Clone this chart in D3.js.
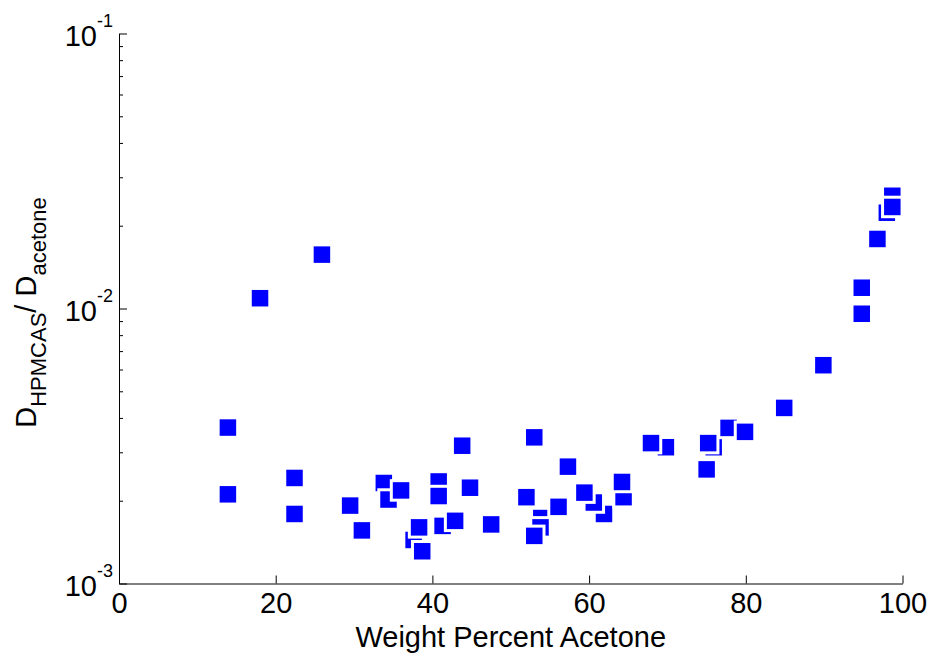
<!DOCTYPE html>
<html>
<head>
<meta charset="utf-8">
<script src="https://cdn.jsdelivr.net/npm/d3@7"></script>
<style>
  body { margin: 0; background: #fff; }
  svg text { font-family: Arial, "Liberation Sans", sans-serif; fill: #000; }
</style>
</head>
<body>
<svg id="diffusivity-ratio"></svg>
<script>
// weight percent acetone (x) and D_HPMCAS / D_acetone (y), in plot order
const weightPercent = [
    13.9, 13.9, 18.0, 22.4, 22.4, 25.9, 29.5, 31.0, 33.8, 34.4,
    36.0, 37.6, 38.3, 38.7, 40.8, 40.8, 41.3, 42.9, 43.8, 44.8,
    47.5, 52.0, 53.0, 53.9, 53.8, 53.0, 56.1, 57.3, 61.9, 60.6,
    59.4, 64.4, 64.2, 69.8, 67.9, 75.0, 75.9, 75.2, 77.8, 79.9,
    84.9, 89.9, 94.8, 94.8, 96.8, 98.7, 98.0, 98.7
];
const diffRatio = [
    0.00369, 0.00211, 0.0109, 0.00242, 0.00179, 0.0157, 0.00192, 0.00156, 0.00232, 0.00202,
    0.00218, 0.00144, 0.00160, 0.00131, 0.00235, 0.00208, 0.00162, 0.00169, 0.00317, 0.00223,
    0.00164, 0.00206, 0.00340, 0.00173, 0.00160, 0.00149, 0.00190, 0.00266, 0.00179, 0.00197,
    0.00214, 0.00206, 0.00234, 0.00313, 0.00324, 0.00260, 0.00313, 0.00324, 0.00368, 0.00356,
    0.00435, 0.00622, 0.0119, 0.00957, 0.0179, 0.0257, 0.0223, 0.0234
];

const xTicks = [0, 20, 40, 60, 80, 100];
const yMajorTicks = [1e-3, 1e-2, 1e-1];
const yMajorExponents = ["-3", "-2", "-1"];
const yMinorTicks = [2, 3, 4, 5, 6, 7, 8, 9].flatMap(m => [m * 1e-3, m * 1e-2]);

const width = 930, height = 656;
const margin = { left: 119, right: 27.5, top: 33.5, bottom: 72.5 };

const svg = d3.select("#diffusivity-ratio").attr("width", width).attr("height", height);

const x = d3.scaleLinear().domain([0, 100]).range([margin.left, width - margin.right]);
const y = d3.scaleLog().domain([1e-3, 1e-1]).range([height - margin.bottom, margin.top]);

// points (blue squares with white edge)
const side = 19.5;
svg.append("g")
    .selectAll("rect")
    .data(weightPercent.map((w, i) => ({ w, r: diffRatio[i] })))
    .join("rect")
    .attr("x", d => x(d.w) - side / 2)
    .attr("y", d => y(d.r) - side / 2)
    .attr("width", side)
    .attr("height", side)
    .attr("fill", "#0000ff")
    .attr("stroke", "#fff")
    .attr("stroke-width", 3);

// x axis, ticks pointing inward
const xAxis = svg.append("g")
    .attr("transform", `translate(0,${height - margin.bottom})`)
    .call(d3.axisBottom(x).tickValues(xTicks).tickSize(-8).tickSizeOuter(0).tickPadding(9));
xAxis.selectAll("text").attr("font-size", "29px").attr("dy", "0.71em");

// y axis, major and minor ticks
svg.append("g")
    .attr("transform", `translate(${margin.left},0)`)
    .call(d3.axisLeft(y).tickValues(yMinorTicks).tickSize(-4).tickSizeOuter(0).tickFormat(""));
svg.append("g")
    .attr("transform", `translate(${margin.left},0)`)
    .call(d3.axisLeft(y).tickValues(yMajorTicks).tickSize(-8).tickSizeOuter(0).tickFormat(""));

svg.selectAll(".domain, .tick line").attr("stroke", "#000").attr("stroke-width", 1);

// y tick labels as 10^n
yMajorTicks.forEach((v, i) => {
    const t = svg.append("text")
        .attr("x", margin.left - 6)
        .attr("y", y(v) + 12)
        .attr("text-anchor", "end");
    t.append("tspan").attr("font-size", "29px").text("10");
    t.append("tspan").attr("font-size", "18px").attr("dy", -19).text(yMajorExponents[i]);
});

// axis titles
svg.append("text")
    .attr("x", (x(0) + x(100)) / 2)
    .attr("y", 647)
    .attr("text-anchor", "middle")
    .attr("font-size", "29px")
    .text("Weight Percent Acetone");

const yLabel = svg.append("text")
    .attr("transform", `translate(36,${(y(1e-3) + y(1e-1)) / 2 + 4}) rotate(-90)`)
    .attr("text-anchor", "middle");
yLabel.append("tspan").attr("font-size", "29px").text("D");
yLabel.append("tspan").attr("font-size", "22px").attr("dy", 10).text("HPMCAS");
yLabel.append("tspan").attr("font-size", "29px").attr("dy", -10).text("/ D");
yLabel.append("tspan").attr("font-size", "22px").attr("dy", 10).text("acetone");
</script>
</body>
</html>
